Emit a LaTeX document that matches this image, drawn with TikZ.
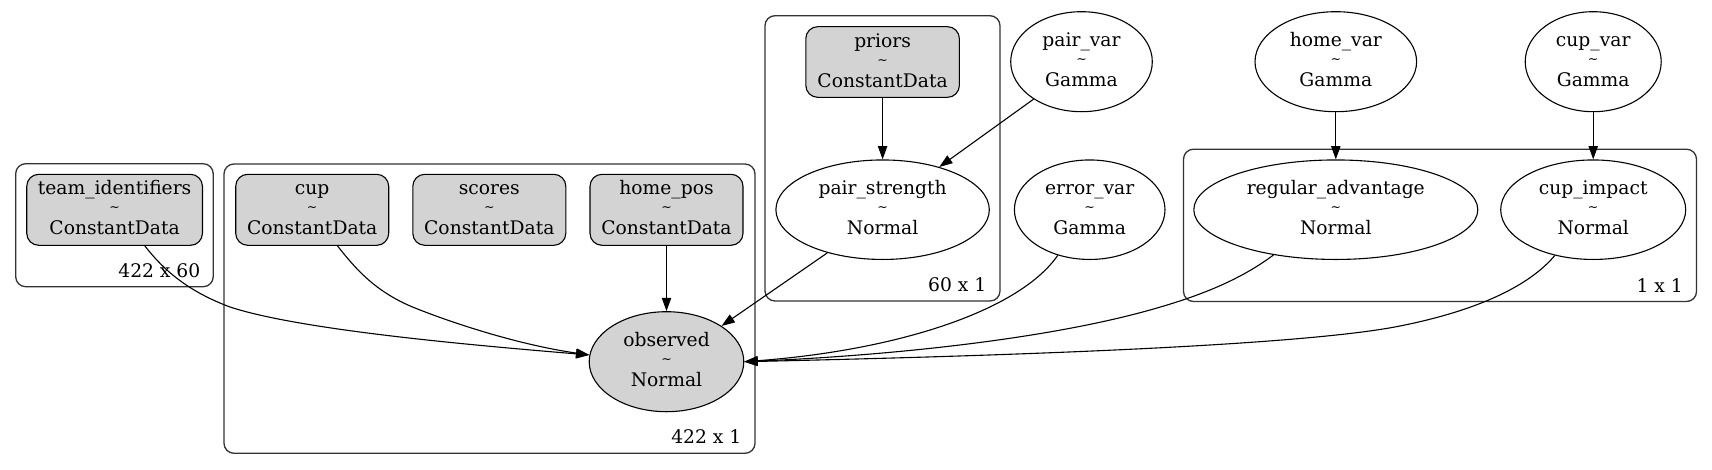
\documentclass[tikz,border=0pt]{standalone}
\usepackage{fontspec}
\setmainfont{DejaVu Serif}
\usetikzlibrary{shapes.geometric,arrows.meta}
\definecolor{lgray}{HTML}{D3D3D3}
\newcommand{\nlab}[2]{\rule{0pt}{14pt}#1\\\raisebox{3pt}{\fontsize{12.5pt}{20pt}\selectfont\textasciitilde}\\#2\rule[-4pt]{0pt}{4pt}}
\begin{document}
\begin{tikzpicture}[x=1pt,y=-1pt,
  every node/.style={font=\fontsize{18.7pt}{20pt}\selectfont},
  databox/.style={draw=black, line width=1.1pt, fill=lgray, rounded corners=12pt, minimum height=71pt, inner sep=0pt, align=center},
  rv/.style={draw=black, line width=1.1pt, ellipse, inner sep=0pt, align=center, minimum height=99.5pt},
  obsv/.style={rv, fill=lgray},
  plate/.style={draw=black!80, line width=1.3pt, rounded corners=10pt},
  platelabel/.style={anchor=base east, inner sep=0pt},
  edge/.style={draw=black, line width=1.1pt, -{Triangle[length=13.3pt,width=9.3pt]}}
]
\useasboundingbox (0,0) rectangle (1712,469);
% plates
\draw[plate] (15.7,163.7) rectangle (213.2,286.7);
\draw[plate] (224,164) rectangle (755,453.3);
\draw[plate] (765,15.7) rectangle (1000,301);
\draw[plate] (1183.5,149.2) rectangle (1696.5,301.5);
% nodes
\node[databox, minimum width=175.7pt] (team) at (114.6,209.8) {\nlab{team\_identifiers}{ConstantData}};
\node[databox, minimum width=153pt] (cup) at (312.2,209.8) {\nlab{cup}{ConstantData}};
\node[databox, minimum width=153pt] (scores) at (489.3,209.8) {\nlab{scores}{ConstantData}};
\node[databox, minimum width=153pt] (homepos) at (666.5,209.8) {\nlab{home\_pos}{ConstantData}};
\node[databox, minimum width=153.6pt, minimum height=70.7pt] (priors) at (882.6,62) {\nlab{priors}{ConstantData}};
\node[rv, minimum width=213.4pt] (ps) at (882.6,209.7) {\nlab{pair\_strength}{Normal}};
\node[rv, minimum width=141.6pt, minimum height=100pt] (pv) at (1081.5,61.7) {\nlab{pair\_var}{Gamma}};
\node[rv, minimum width=150.6pt] (err) at (1089.7,209.7) {\nlab{error\_var}{Gamma}};
\node[rv, minimum width=161.6pt, minimum height=100pt] (hv) at (1335.8,61.7) {\nlab{home\_var}{Gamma}};
\node[rv, minimum width=136pt, minimum height=100pt] (cv) at (1593.2,61.7) {\nlab{cup\_var}{Gamma}};
\node[rv, minimum width=284pt] (reg) at (1335.8,209.7) {\nlab{regular\_advantage}{Normal}};
\node[rv, minimum width=185pt] (ci) at (1593.2,209.7) {\nlab{cup\_impact}{Normal}};
\node[obsv, minimum width=154.6pt, minimum height=100pt] (obs) at (666.5,361.7) {\nlab{observed}{Normal}};
% plate labels
\node[platelabel] (l1) at (200.5,277) {422 x 60};
\node[platelabel] (l2) at (741.5,443.5) {422 x 1};
\node[platelabel] (l3) at (986.5,291.5) {60 x 1};
\node[platelabel] (l4) at (1683,292.5) {1 x 1};
% edges
\draw[edge] (team.-50) .. controls (165,272) and (190,292) .. (230,307) .. controls (300,330) and (470,345) .. (obs.175);
\draw[edge] (cup.-55) .. controls (355,268) and (375,292) .. (415,308) .. controls (455,324) and (520,345) .. (obs.175);
\draw[edge] (homepos) -- (obs);
\draw[edge] (priors) -- (ps);
\draw[edge] (pv.-142) -- (ps.37);
\draw[edge] (ps.-142) -- (obs.33);
\draw[edge] (err.-125) .. controls (1020,310) and (900,350) .. (obs.east);
\draw[edge] (reg.-144) .. controls (1240,280) and (1200,296) .. (1150,310) .. controls (1050,338) and (900,355) .. (obs.east);
\draw[edge] (ci.-130) .. controls (1530,285) and (1480,310) .. (1400,326) .. controls (1300,346) and (1000,356) .. (obs.east);
\draw[edge] (hv) -- (reg);
\draw[edge] (cv) -- (ci);
\end{tikzpicture}
\end{document}
